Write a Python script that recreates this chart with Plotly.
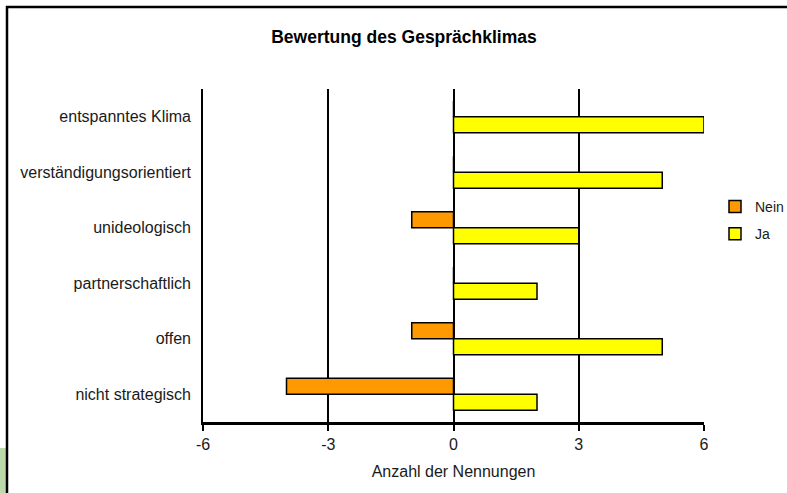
import plotly.graph_objects as go

categories = ["entspanntes Klima", "verständigungsorientiert", "unideologisch",
              "partnerschaftlich", "offen", "nicht strategisch"]
nein = [0, 0, -1, 0, -1, -4]
ja = [6, 5, 3, 2, 5, 2]
xticks = [-6, -3, 0, 3, 6]
title = "Bewertung des Gesprächklimas"
xtitle = "Anzahl der Nennungen"

FONT = "Liberation Sans, Arial, sans-serif"

fig = go.Figure()
fig.add_trace(go.Bar(y=categories, x=nein, name="Nein", orientation="h",
                     marker=dict(color="#FF9900", line=dict(color="black", width=1.5)),
                     legendgroup="a"))
fig.add_trace(go.Bar(y=categories, x=ja, name="Ja", orientation="h",
                     marker=dict(color="#FFFF00", line=dict(color="black", width=1.5)),
                     legendgroup="b"))

L, R, T, B = 203, 83, 89, 71
W, H = 787, 493
pw = W - L - R
ph = H - T - B

def px_x(p):
    return (p - L) / pw

def px_y(p):
    return (H - B - p) / ph

fig.update_layout(
    width=W, height=H,
    margin=dict(l=L, r=R, t=T, b=B, autoexpand=False),
    paper_bgcolor="white", plot_bgcolor="white",
    barmode="group", bargap=0.42, bargroupgap=0,
    font=dict(family=FONT, size=16, color="#1a1a1a"),
    title=dict(text="<b>" + title + "</b>", x=px_x(404), xref="paper", xanchor="center",
               y=1 - 37 / H, yref="container", yanchor="middle",
               font=dict(family=FONT, size=17.5, color="black")),
    xaxis=dict(range=[-6, 6], tickvals=xticks, ticktext=[str(v) for v in xticks],
               showgrid=True, gridcolor="black", gridwidth=1.6,
               zeroline=False, showline=True, linecolor="black", linewidth=2.5,
               ticks="outside", ticklen=6, tickwidth=1.5, tickcolor="black",
               tickfont=dict(size=16),
               title=dict(text=xtitle, font=dict(size=16), standoff=14)),
    yaxis=dict(autorange="reversed", showgrid=False, zeroline=False,
               showline=True, linecolor="black", linewidth=1.6,
               ticks="", ticklabelstandoff=7, tickfont=dict(size=16)),
    legend=dict(x=px_x(715), y=px_y(191), xanchor="left", yanchor="top",
                font=dict(size=14), traceorder="grouped", tracegroupgap=6,
                bgcolor="rgba(0,0,0,0)"),
    shapes=[
        dict(type="rect", xref="paper", yref="paper",
             x0=px_x(-2), x1=px_x(6), y0=px_y(448), y1=px_y(500),
             fillcolor="#bcd9a9", line=dict(width=0), layer="below"),
        dict(type="line", xref="paper", yref="paper",
             x0=px_x(6), x1=px_x(795), y0=px_y(7), y1=px_y(7),
             line=dict(color="black", width=2.5), layer="above"),
        dict(type="line", xref="paper", yref="paper",
             x0=px_x(7), x1=px_x(7), y0=px_y(6), y1=px_y(500),
             line=dict(color="black", width=2.5), layer="above"),
    ],
)

fig.write_html("out.html", config={"displayModeBar": False},
               post_script="document.body.style.margin='0';document.body.style.overflow='hidden';")
